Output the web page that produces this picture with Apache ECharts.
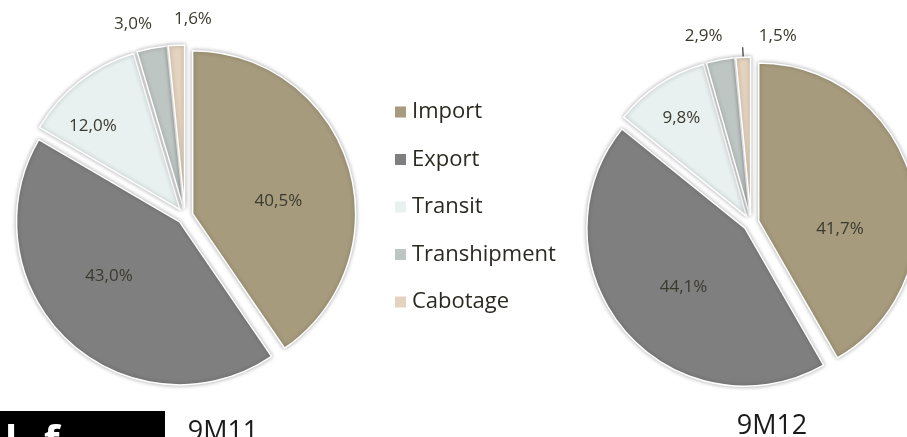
<!DOCTYPE html>
<html>
<head>
<meta charset="utf-8">
<script src="https://cdn.jsdelivr.net/npm/echarts@6/dist/echarts.min.js"></script>
<style>
  html, body { margin: 0; padding: 0; background: #fff; }
  #chart { width: 907px; height: 437px; }
</style>
</head>
<body>
<div id="chart"></div>
<script>
// categories and values (percent)
const categories = ['Import', 'Export', 'Transit', 'Transhipment', 'Cabotage']
const values9M11 = [40.5, 43.0, 12.0, 3.0, 1.6]
const values9M12 = [41.7, 44.1, 9.8, 2.9, 1.5]
const periodLabels = ['9M11', '9M12']
const colors = ['#A69B7D', '#7F7F7F', '#E9F0F0', '#BEC6C4', '#E4D3BE']

// label nudges (dx, dy) per series, per slice, to mimic the original placement
const labelNudge = [
  [[5, 12], [-13, -8], [-35, -17], [7, -14], [41, -16]],
  [[2, 29], [1, 6], [-20, -30], [9, -14], [59, -11]]
]

const chart = echarts.init(document.getElementById('chart'), null, { renderer: 'canvas' })

const fmt = v => v.toFixed(1).replace('.', ',') + '%'

// build data items: small slices get their label outside
const buildData = (vals, leaderIdx) => vals.map((v, i) => ({
  name: categories[i],
  value: v,
  selected: true,
  itemStyle: { color: colors[i] },
  label: { position: v < 5 ? 'outside' : 'inside', fontSize: 17 },
  labelLine: { show: i === leaderIdx, length: 10, length2: 0, lineStyle: { color: '#333', width: 1.2 } }
}))

const pieBase = {
  type: 'pie',
  startAngle: 90,
  clockwise: true,
  selectedMode: 'multiple',
  selectedOffset: 8,
  avoidLabelOverlap: false,
  emphasis: { disabled: true },
  itemStyle: {
    borderColor: '#fff',
    borderWidth: 1.5,
    shadowBlur: 4,
    shadowColor: 'rgba(0,0,0,0.3)'
  },
  label: {
    formatter: p => fmt(p.value),
    fontFamily: 'Open Sans',
    fontSize: 17,
    color: '#3b3a2e'
  },
  labelLayout: p => {
    const n = labelNudge[p.seriesIndex][p.dataIndex]
    return { hideOverlap: false, dx: n[0], dy: n[1] }
  }
}

const option = {
  animation: false,
  backgroundColor: '#fff',
  legend: {
    orient: 'vertical',
    left: 388,
    top: 96,
    itemWidth: 13,
    itemHeight: 13,
    itemGap: 25.5,
    icon: 'rect',
    selectedMode: false,
    data: categories,
    textStyle: { fontFamily: 'Open Sans', fontSize: 22, color: '#2a2922' }
  },
  title: [
    { text: periodLabels[0], left: 218, top: 414, textAlign: 'center',
      textStyle: { fontFamily: 'Open Sans', fontSize: 27, fontWeight: 'normal', color: '#1a1a1a' } },
    { text: periodLabels[1], left: 767, top: 408, textAlign: 'center',
      textStyle: { fontFamily: 'Open Sans', fontSize: 27, fontWeight: 'normal', color: '#1a1a1a' } }
  ],
  graphic: [
    { type: 'rect', shape: { x: 0, y: 411, width: 165, height: 30 }, style: { fill: '#000' } },
    { type: 'text', x: 5, y: 423, style: { text: 'l', fill: '#fff', font: 'bold 40px "Open Sans"' } },
    { type: 'text', x: 44, y: 423, style: { text: 'f', fill: '#fff', font: 'bold 40px "Open Sans"' } }
  ],
  series: [
    Object.assign({}, pieBase, {
      name: periodLabels[0],
      center: [185, 216],
      radius: 163,
      data: buildData(values9M11, -1)
    }),
    Object.assign({}, pieBase, {
      name: periodLabels[1],
      center: [751, 223],
      radius: 158,
      data: buildData(values9M12, 4)
    })
  ]
}

chart.setOption(option)
</script>
</body>
</html>
